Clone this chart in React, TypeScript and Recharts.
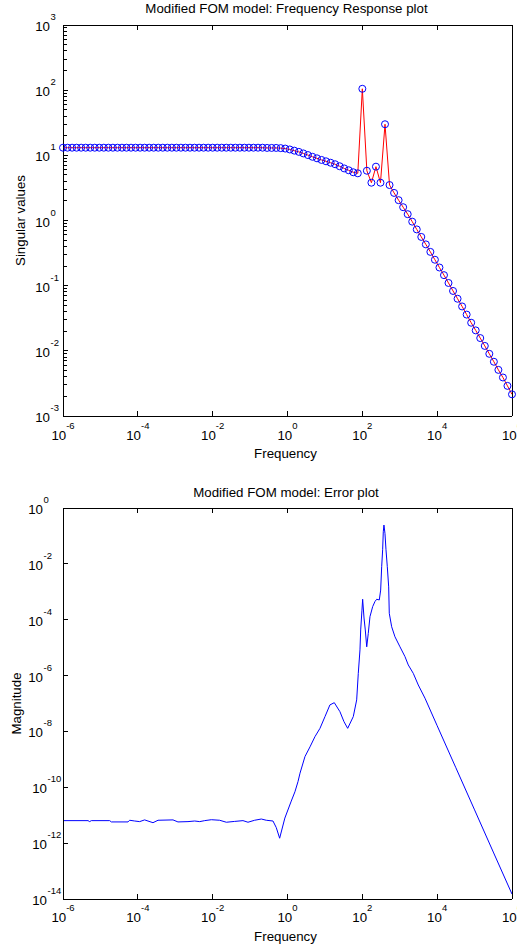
import React from 'react';
import { LineChart, Line, XAxis, YAxis } from 'recharts';

const FONT = '"Liberation Sans", Arial, Helvetica, sans-serif';
const TICK_FONT = 13.3;
const EXP_FONT = 9.5;

// frequency response: 100 log spaced frequencies, 1e-6 .. 1e6
const respFreq = [
  1e-6, 1.322e-6, 1.748e-6, 2.31e-6, 3.054e-6, 4.037e-6, 5.337e-6, 7.055e-6, 9.326e-6,
  1.233e-5, 1.63e-5, 2.154e-5, 2.848e-5, 3.765e-5, 4.977e-5, 6.579e-5, 8.697e-5,
  1.15e-4, 1.52e-4, 2.009e-4, 2.656e-4, 3.511e-4, 4.642e-4, 6.136e-4, 8.111e-4,
  1.072e-3, 1.417e-3, 1.874e-3, 2.477e-3, 3.275e-3, 4.329e-3, 5.722e-3, 7.565e-3,
  1e-2, 1.322e-2, 1.748e-2, 2.31e-2, 3.054e-2, 4.037e-2, 5.337e-2, 7.055e-2, 9.326e-2,
  0.1233, 0.163, 0.2154, 0.2848, 0.3765, 0.4977, 0.6579, 0.8697,
  1.15, 1.52, 2.009, 2.656, 3.511, 4.642, 6.136, 8.111,
  10.72, 14.17, 18.74, 24.77, 32.75, 43.29, 57.22, 75.65,
  100, 132.2, 174.8, 231.0, 305.4, 403.7, 533.7, 705.5, 932.6,
  1233, 1630, 2154, 2848, 3765, 4977, 6579, 8697,
  11500, 15200, 20090, 26560, 35110, 46420, 61360, 81110,
  1.072e5, 1.417e5, 1.874e5, 2.477e5, 3.275e5, 4.329e5, 5.722e5, 7.565e5, 1e6,
];

const singularValues = [
  13.1, 13.1, 13.1, 13.1, 13.1, 13.1, 13.1, 13.1, 13.1, 13.1,
  13.1, 13.1, 13.1, 13.1, 13.1, 13.1, 13.1, 13.1, 13.1, 13.1,
  13.1, 13.1, 13.1, 13.1, 13.1, 13.1, 13.1, 13.1, 13.1, 13.1,
  13.1, 13.1, 13.1, 13.1, 13.1, 13.1, 13.1, 13.1, 13.1, 13.1,
  13.1, 13.1, 13.1, 13.1, 13.1, 13.0, 13.0, 13.0, 12.9, 12.7,
  12.3, 11.8, 11.3, 10.7, 10.1, 9.5, 9.0, 8.5, 8.1, 7.7,
  7.3, 6.8, 6.3, 5.9, 5.5, 5.3, 105, 5.8, 3.8, 6.7,
  3.8, 30, 3.5, 2.65, 2.05, 1.6, 1.25, 0.96, 0.73, 0.56,
  0.43, 0.33, 0.25, 0.19, 0.145, 0.11, 0.083, 0.063, 0.048, 0.036,
  0.027, 0.0206, 0.0157, 0.0119, 0.009, 0.0068, 0.0051, 0.0039, 0.0029, 0.00215,
];

// error plot
const errFreq = [
  1e-6, 4.66e-6, 5.16e-6, 5.71e-6, 1.77e-5, 1.96e-5, 5.46e-5, 6.05e-5, 8.24e-5,
  1.12e-4, 1.52e-4, 2.54e-4, 3.46e-4, 8.71e-4, 1.18e-3, 2.19e-3, 3.31e-3, 4.51e-3,
  6.12e-3, 9.23e-3, 1.54e-2, 2.32e-2, 3.87e-2, 6.46e-2, 8.79e-2, 0.132, 0.2, 0.271,
  0.409, 0.501, 0.617, 0.85, 1.26, 1.58, 1.91, 2.16, 2.93, 3.99, 5.42, 7.38,
  10.05, 13.6, 17.8, 25.2, 32.3, 40.6, 57.3, 70.6, 78.0, 86.5, 90.4, 97.7,
  102, 111, 120, 131, 144, 160, 189, 218, 242, 284, 309, 329, 349, 363, 378,
  403, 429, 465, 506, 525, 608, 745, 1014, 1377, 1690, 2301, 3126, 4721,
  1e4, 3.16e4, 1e5, 3.16e5, 1e6,
];

const errMagnitude = [
  6.4e-12, 6.4e-12, 5.9e-12, 6.4e-12, 6.4e-12, 5.75e-12, 5.75e-12, 6.6e-12, 6.2e-12,
  5.9e-12, 6.8e-12, 5.4e-12, 6.6e-12, 6.8e-12, 5.75e-12, 5.9e-12, 6.2e-12, 5.9e-12,
  6.4e-12, 6.9e-12, 6.6e-12, 5.6e-12, 6.0e-12, 6.4e-12, 5.6e-12, 6.6e-12, 7.3e-12, 6.6e-12,
  6.2e-12, 3.6e-12, 1.5e-12, 7.9e-12, 3.2e-11, 6.9e-11, 1.6e-10, 3.2e-10, 1.26e-9, 2.8e-9, 6.5e-9, 1.29e-8,
  3.4e-8, 8.9e-8, 1.07e-7, 5.1e-8, 2.24e-8, 1.29e-8, 3.4e-8, 1.35e-7, 1.2e-6, 8.3e-6, 4.3e-5, 2.2e-4,
  5.4e-4, 1.15e-4, 4.3e-5, 1.07e-5, 3.2e-5, 1.29e-4, 2.95e-4, 4.5e-4, 5.4e-4, 5.1e-4, 1.15e-3, 7.9e-3, 3.2e-2, 0.141, 0.245,
  0.123, 0.032, 7.9e-3, 1.5e-3, 1.7e-4, 5.6e-5, 2.45e-5, 1.07e-5, 4.8e-6, 2.4e-6, 1.2e-6, 4.6e-7, 1.55e-7,
  1.6e-8, 5.0e-10, 1.55e-11, 4.8e-13, 1.5e-14,
];

const freqTicks = [1e-6, 1e-4, 1e-2, 1, 1e2, 1e4, 1e6];
const svDecades = [1e-3, 1e-2, 1e-1, 1, 1e1, 1e2, 1e3];
const errTicks = [1e-14, 1e-12, 1e-10, 1e-8, 1e-6, 1e-4, 1e-2, 1];

const svTicks = [
  ...svDecades.slice(0, -1).flatMap((d) => [1, 2, 3, 4, 5, 6, 7, 8, 9].map((m) => m * d)),
  1e3,
];

const respData = respFreq.map((f, i) => ({ f, sv: singularValues[i] }));
const errData = errFreq.map((f, i) => ({ f, err: errMagnitude[i] }));

const expOf = (v: number) => Math.round(Math.log10(v));
const isDecade = (v: number) => {
  const l = Math.log10(v);
  return Math.abs(l - Math.round(l)) < 1e-6;
};

const tickStroke = { stroke: '#000', strokeWidth: 1, shapeRendering: 'crispEdges' } as const;

const BottomTick = (props: any) => {
  const { x, y, payload, labelDy } = props;
  return (
    <g>
      <line x1={x} y1={y} x2={x} y2={y - 5} {...tickStroke} />
      <text x={x} y={y + labelDy} textAnchor="middle" fontFamily={FONT} fontSize={TICK_FONT} fill="#000">
        10<tspan dy={-11} fontSize={EXP_FONT}>{expOf(payload.value)}</tspan>
      </text>
    </g>
  );
};

const TopTick = (props: any) => {
  const { x, y } = props;
  return (
    <g>
      <line x1={x} y1={y} x2={x} y2={y + 5} {...tickStroke} />
    </g>
  );
};

const RightTick = (props: any) => {
  const { x, y, payload } = props;
  return (
    <g>
      <line x1={x} y1={y} x2={x - (isDecade(payload.value) ? 5 : 3.5)} y2={y} {...tickStroke} />
    </g>
  );
};

const LeftTick = (props: any) => {
  const { x, y, payload, baseEnd } = props;
  const v = payload.value;
  const major = isDecade(v);
  const e = String(expOf(v));
  const end = typeof baseEnd === 'function' ? baseEnd(e) : baseEnd;
  return (
    <g>
      <line x1={x} y1={y} x2={x + (major ? 5 : 3.5)} y2={y} {...tickStroke} />
      {major && (
        <g fontFamily={FONT} fill="#000">
          <text x={end} y={y + 6} textAnchor="end" fontSize={TICK_FONT}>10</text>
          <text x={end + 0.5} y={y - 5} textAnchor="start" fontSize={EXP_FONT}>{e}</text>
        </g>
      )}
    </g>
  );
};

const axisLine = { stroke: '#000', shapeRendering: 'crispEdges' };

const App = () => {
  return (
    <div style={{ position: 'absolute', left: 0, top: 0, width: 517, height: 952, background: '#fff' }}>
      <div style={{ position: 'absolute', left: 0, top: 0 }}>
        <LineChart width={517} height={480} data={respData} margin={{ top: 15, right: 1, bottom: 34, left: 23 }}>
          <XAxis
            dataKey="f" type="number" scale="log" domain={[1e-6, 1e6]} ticks={freqTicks} interval={0}
            height={30} tickSize={0} tickMargin={0} tickLine={false} axisLine={axisLine}
            tick={(p: any) => <BottomTick {...p} labelDy={24} />}
          />
          <XAxis
            xAxisId="top" orientation="top" dataKey="f" type="number" scale="log" domain={[1e-6, 1e6]}
            ticks={freqTicks} interval={0} height={10} tickSize={0} tickMargin={0} tickLine={false}
            axisLine={axisLine} tick={(p: any) => <TopTick {...p} />}
          />
          <YAxis
            type="number" scale="log" domain={[1e-3, 1e3]} ticks={svTicks} interval={0}
            width={40} tickSize={0} tickMargin={0} tickLine={false} axisLine={axisLine}
            tick={(p: any) => <LeftTick {...p} baseEnd={50} />}
          />
          <YAxis
            yAxisId="right" orientation="right" type="number" scale="log" domain={[1e-3, 1e3]}
            ticks={svTicks} interval={0} width={4} tickSize={0} tickMargin={0} tickLine={false}
            axisLine={axisLine} tick={(p: any) => <RightTick {...p} />}
          />
          <Line
            type="linear" dataKey="sv" stroke="#ff0000" strokeWidth={1}
            dot={{ r: 3.5, stroke: '#0000ff', strokeWidth: 1, fill: 'none' }}
            activeDot={false} isAnimationActive={false}
          />
        </LineChart>
      </div>
      <div style={{ position: 'absolute', left: 0, top: 480 }}>
        <LineChart width={517} height={472} data={errData} margin={{ top: 18, right: 1, bottom: 23, left: 23 }}>
          <XAxis
            dataKey="f" type="number" scale="log" domain={[1e-6, 1e6]} ticks={freqTicks} interval={0}
            height={30} tickSize={0} tickMargin={0} tickLine={false} axisLine={axisLine}
            tick={(p: any) => <BottomTick {...p} labelDy={23} />}
          />
          <XAxis
            xAxisId="top" orientation="top" dataKey="f" type="number" scale="log" domain={[1e-6, 1e6]}
            ticks={freqTicks} interval={0} height={10} tickSize={0} tickMargin={0} tickLine={false}
            axisLine={axisLine} tick={(p: any) => <TopTick {...p} />}
          />
          <YAxis
            type="number" scale="log" domain={[1e-14, 1]} ticks={errTicks} interval={0}
            width={40} tickSize={0} tickMargin={0} tickLine={false} axisLine={axisLine}
            tick={(p: any) => <LeftTick {...p} baseEnd={(e: string) => (e.length > 2 ? 47 : 43)} />}
          />
          <YAxis
            yAxisId="right" orientation="right" type="number" scale="log" domain={[1e-14, 1]}
            ticks={errTicks} interval={0} width={4} tickSize={0} tickMargin={0} tickLine={false}
            axisLine={axisLine} tick={(p: any) => <RightTick {...p} />}
          />
          <Line
            type="linear" dataKey="err" stroke="#0000ff" strokeWidth={1}
            dot={false} activeDot={false} isAnimationActive={false}
          />
        </LineChart>
      </div>
      <svg
        width={517} height={952}
        style={{ position: 'absolute', left: 0, top: 0, pointerEvents: 'none' }}
        fontFamily={FONT} fontSize={TICK_FONT} fill="#000"
      >
        <text x={286.5} y={13} textAnchor="middle">Modified FOM model: Frequency Response plot</text>
        <text x={285.5} y={457.5} textAnchor="middle">Frequency</text>
        <text x={24.5} y={220.5} textAnchor="middle" transform="rotate(-90 24.5 220.5)">Singular values</text>
        <text x={286} y={496.5} textAnchor="middle">Modified FOM model: Error plot</text>
        <text x={285.5} y={941} textAnchor="middle">Frequency</text>
        <text x={21} y={703.5} textAnchor="middle" transform="rotate(-90 21 703.5)">Magnitude</text>
      </svg>
    </div>
  );
};

export default App;
